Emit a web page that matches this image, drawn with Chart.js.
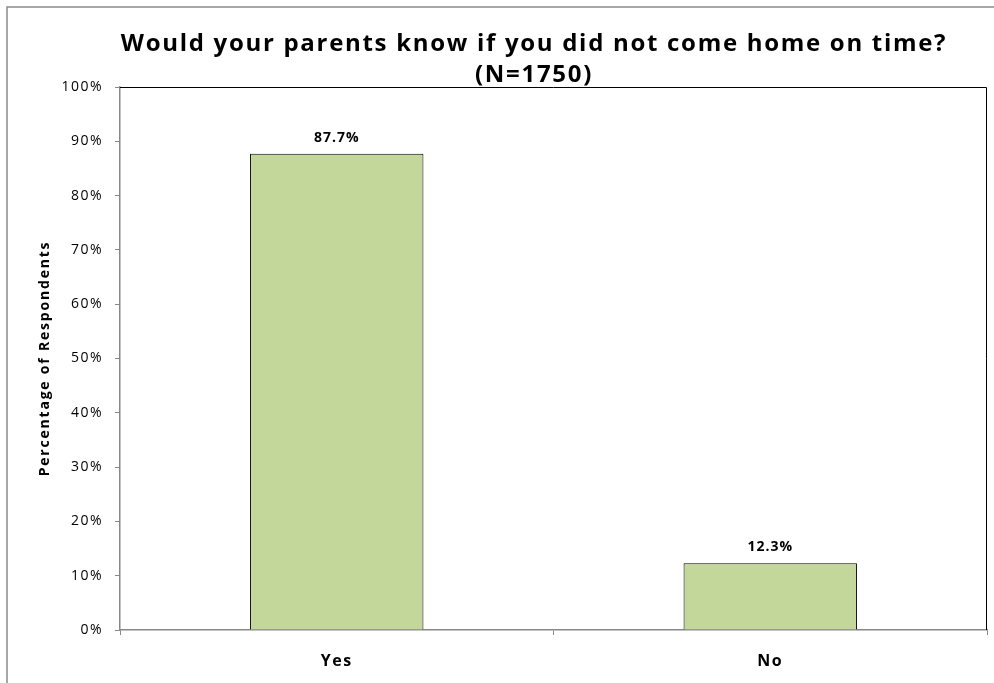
<!DOCTYPE html>
<html>
<head>
<meta charset="utf-8">
<script src="https://cdn.jsdelivr.net/npm/chart.js@4"></script>
<style>
  html, body { margin: 0; padding: 0; background: #fff; }
  #wrap { position: relative; width: 994px; height: 683px; }
</style>
</head>
<body>
<div id="wrap"><canvas id="parentsChart" width="994" height="683"></canvas></div>
<script>
const answers = ["Yes", "No"];
const percentages = [87.7, 12.3];
const yTicks = [0, 10, 20, 30, 40, 50, 60, 70, 80, 90, 100];

const titleLines = ["Would your parents know if you did not come home on time?", "(N=1750)"];
const yTitle = "Percentage of Respondents";

const ctx = document.getElementById('parentsChart').getContext("2d");

// frame around the whole chart, spaced-out text, top/right edges of the plot box
const framePlugin = {
  id: "frame",
  beforeDraw(chart) {
    const c = chart.ctx;
    c.letterSpacing = "1.5px";
    c.save();
    c.fillStyle = "#fff";
    c.fillRect(0, 0, chart.width, chart.height);
    c.strokeStyle = "#8c8c8c";
    c.lineWidth = 1.5;
    c.strokeRect(7, 7, chart.width + 10, chart.height + 10);
    c.restore();
  },
  afterDatasetsDraw(chart) {
    const a = chart.chartArea;
    const c = chart.ctx;
    c.save();
    c.strokeStyle = "#000";
    c.lineWidth = 1;
    c.beginPath();
    c.moveTo(a.left, a.top + 0.5);
    c.lineTo(a.right - 0.5, a.top + 0.5);
    c.lineTo(a.right - 0.5, a.bottom);
    c.stroke();
    c.restore();
  }
};

// chart title, y axis title and the value labels above each bar
const textPlugin = {
  id: "texts",
  afterDatasetsDraw(chart) {
    const c = chart.ctx;
    const a = chart.chartArea;
    c.save();
    c.fillStyle = "#000";
    c.textAlign = "center";
    c.textBaseline = "middle";

    c.font = "bold 24px 'Open Sans'";
    c.letterSpacing = "1.7px";
    titleLines.forEach((line, i) => {
      c.fillText(line, 534, 44 + i * 31);
    });

    c.font = "bold 14px 'Open Sans'";
    c.letterSpacing = "1.8px";
    c.save();
    c.translate(45, (a.top + a.bottom) / 2);
    c.rotate(-Math.PI / 2);
    c.fillText(yTitle, 0, 0);
    c.restore();

    c.font = "bold 14px 'Open Sans'";
    c.letterSpacing = "1px";
    const meta = chart.getDatasetMeta(0);
    meta.data.forEach((bar, i) => {
      c.fillText(percentages[i].toFixed(1) + "%", bar.x, bar.y - 16);
    });
    c.restore();
  }
};

new Chart(ctx, {
  type: "bar",
  data: {
    labels: answers,
    datasets: [
      {
        data: percentages,
        backgroundColor: "#c4d79b",
        borderColor: "#000",
        borderWidth: 1,
        barPercentage: 0.4,
        categoryPercentage: 1,
      },
    ],
  },
  options: {
    responsive: false,
    animation: false,
    layout: { padding: { left: 0, right: 7, top: 87, bottom: 0 } },
    plugins: {
      legend: { display: false },
      tooltip: { enabled: false },
      title: { display: false },
    },
    scales: {
      x: {
        grid: { drawOnChartArea: false, drawTicks: true, tickLength: 5, color: "#888" },
        border: { color: "#888", width: 1.5 },
        ticks: {
          color: "#000",
          padding: 17,
          font: { family: "'Open Sans'", size: 16, weight: "bold" },
        },
        afterFit(scale) { scale.height = 53; },
      },
      y: {
        min: 0,
        max: 100,
        afterBuildTicks(scale) { scale.ticks = yTicks.map((v) => ({ value: v })); },
        grid: { drawOnChartArea: false, drawTicks: true, tickLength: 5, color: "#888" },
        border: { color: "#888", width: 1.5 },
        ticks: {
          color: "#000",
          padding: 12,
          font: { family: "'Open Sans'", size: 14 },
          callback: (v) => v + "%",
        },
        afterFit(scale) { scale.width = 120; },
      },
    },
  },
  plugins: [framePlugin, textPlugin],
});
</script>
</body>
</html>
